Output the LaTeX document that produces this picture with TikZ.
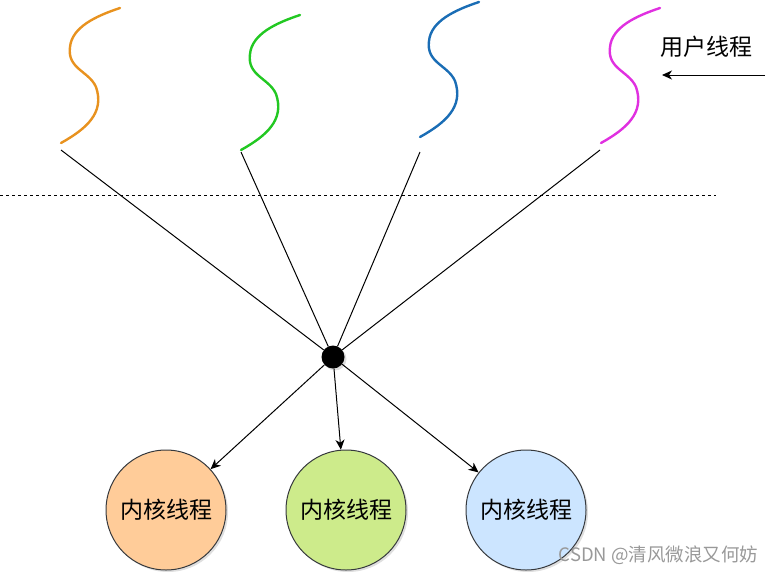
\documentclass[tikz,border=0pt]{standalone}
\usepackage{fontspec}
\setmainfont{Noto Sans CJK SC}
\usetikzlibrary{arrows.meta, shadows}
\definecolor{waveorange}{HTML}{E8921F}
\definecolor{wavegreen}{HTML}{22C822}
\definecolor{waveblue}{HTML}{1A6DB5}
\definecolor{wavepink}{HTML}{E030E0}
\definecolor{kline}{HTML}{36393D}
\definecolor{korange}{HTML}{FFCC99}
\definecolor{kgreen}{HTML}{CDEB8B}
\definecolor{kblue}{HTML}{CCE5FF}

\begin{document}
\begin{tikzpicture}[x=1pt, y=-1pt,
    wave/.style={line width=2.4pt, line cap=round},
    link/.style={black, line width=1pt},
    arrow/.style={-{Stealth[length=10pt, width=9pt, inset=3pt]}, black, line width=1pt},
    kernel/.style={
      circle, draw=kline, line width=1pt, minimum size=120pt, inner sep=0pt,
      font=\fontsize{23}{26}\selectfont,
      drop shadow={shadow xshift=2pt, shadow yshift=-2pt, opacity=0.25}
    },
    hub/.style={circle, fill=black, minimum size=23pt, inner sep=0pt,
      drop shadow={shadow xshift=2pt, shadow yshift=-2pt, opacity=0.25}},
    label/.style={font=\fontsize{23}{26}\selectfont}
  ]
  \useasboundingbox (0,0) rectangle (779,576);

  % user threads
  \foreach \c/\x/\y in {waveorange/61/143, wavegreen/241/150, waveblue/420/137, wavepink/601/143} {
    \draw[wave, \c, shift={(\x,\y)}] (0,0) .. controls (25,-14) and (44,-30) .. (35,-56)
      .. controls (28,-72) and (6,-74) .. (9,-96)
      .. controls (11,-116) and (35,-127) .. (59,-135);
  }
  \coordinate (ua) at (61,150);
  \coordinate (ub) at (241,152);
  \coordinate (uc) at (420,152);
  \coordinate (ud) at (600,150);

  \draw[dashed, dash pattern=on 3pt off 3pt, line width=0.8pt] (0,195) -- (716,195);

  \node[hub] (hub) at (333,357) {};
  \foreach \u in {ua, ub, uc, ud}
    \draw[link] (\u) -- (hub);

  % kernel threads
  \node[kernel, fill=korange] (ka) at (166,510) {内核线程};
  \node[kernel, fill=kgreen] (kb) at (346,510) {内核线程};
  \node[kernel, fill=kblue] (kc) at (526,510) {内核线程};
  \foreach \k in {ka, kb, kc}
    \draw[arrow] (hub) -- (\k);

  \node[label] (ulabel) at (706,47) {用户线程};
  \coordinate (utail) at (765,75);
  \coordinate (uhead) at (662,75);
  \draw[arrow] (utail) -- (uhead);

  \node[text=black!40, font=\fontsize{18.5}{20}\selectfont, anchor=east] (mark) at (762,555) {CSDN @清风微浪又何妨};
\end{tikzpicture}
\end{document}
